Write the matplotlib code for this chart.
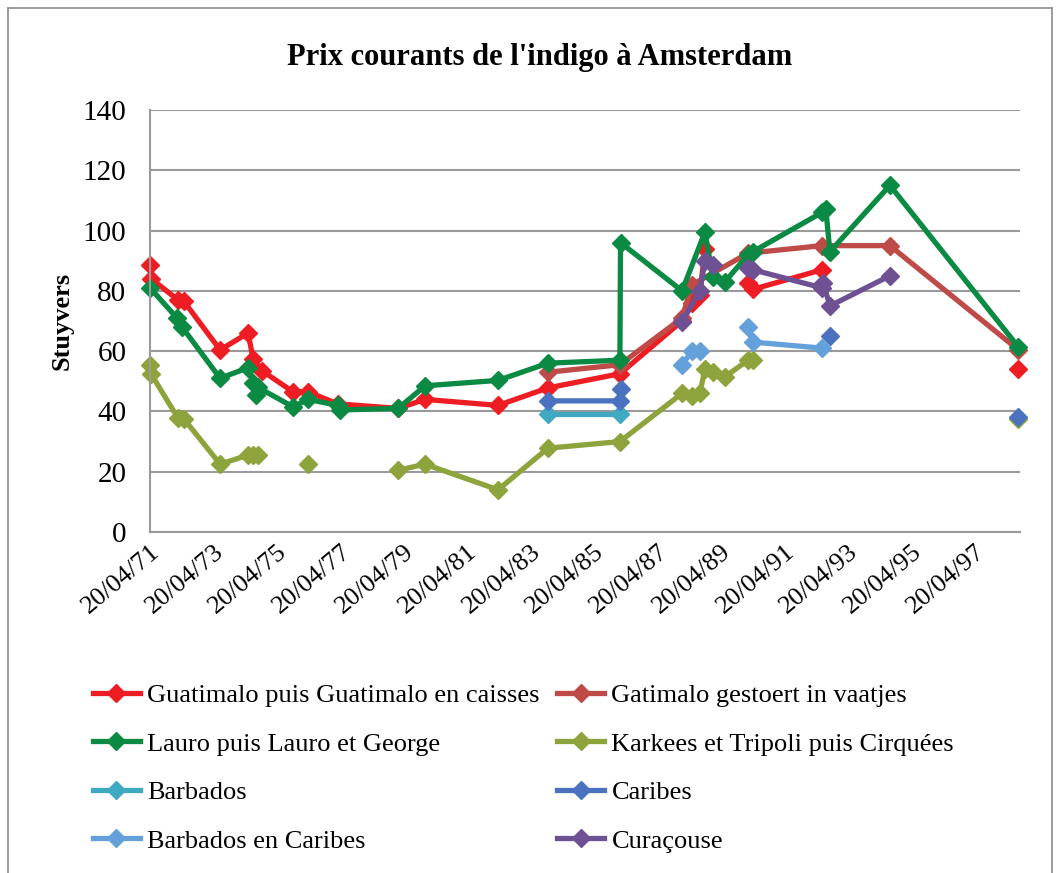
import matplotlib.pyplot as plt
import numpy as np
from matplotlib.lines import Line2D

nan = np.nan

# dates as decimal years (20/04/1771 = 1771.30)
guat_x = [1771.30, 1771.34, 1772.18, 1772.37, 1773.51, 1774.39, 1774.55, 1774.83, 1775.81, 1776.28,
          1777.22, 1779.12, 1779.97, 1782.27, 1783.84, 1786.11, 1788.07, 1788.38, 1788.63, 1788.79,
          nan, 1790.15, 1790.30, 1792.48, nan, 1798.66]
guat_y = [88.5, 84, 77, 76.5, 60.4, 66, 57.5, 53.5, 46.5, 46.5,
          42.5, 41, 44, 42, 47.8, 52.5, 70, 76, 78.6, 94,
          nan, 82.5, 80.5, 87, nan, 54]

gati_x = [1783.84, 1786.11, 1788.07, 1788.38, 1790.15, 1792.48, 1794.62, 1798.66]
gati_y = [53, 55.5, 71, 82, 92.5, 95, 95, 60.5]

lauro_x = [1771.30, 1772.15, 1772.31, 1773.51, 1774.39, 1774.55, 1774.65, 1774.70, 1775.81, 1776.28,
           1777.22, 1777.29, 1779.12, 1779.97, 1782.27, 1783.84, 1786.11, 1786.13, 1788.07, 1788.79,
           1789.04, 1789.42, 1790.15, 1790.30, 1792.48, 1792.60, 1792.73, 1794.62, 1798.66]
lauro_y = [81, 71, 68, 51, 54.5, 49.5, 45.5, 48, 41.5, 44,
           42, 40.5, 41, 48.5, 50.3, 56, 57, 96, 80, 99.5,
           84.5, 83, 92, 93, 106, 107, 93, 115, 61.5]

karkees_x = [1771.30, 1771.33, 1772.18, 1772.37, 1773.51, 1774.39, 1774.55, 1774.70, nan, 1776.28,
             nan, 1779.12, 1779.97, 1782.27, 1783.84, 1786.11, 1788.07, 1788.38, 1788.63, 1788.79,
             1789.04, 1789.42, 1790.15, 1790.30, nan, 1798.66]
karkees_y = [55.5, 52.5, 37.8, 37.5, 22.5, 25.5, 25.5, 25.5, nan, 22.5,
             nan, 20.5, 22.5, 14, 27.8, 30, 46, 45, 46, 54,
             53, 51.5, 57, 57, nan, 37.5]

barb_x = [1783.84, 1786.11]
barb_y = [39, 39]

carib_x = [1783.84, 1786.11, 1786.13, nan, 1792.73, nan, 1798.66]
carib_y = [43.5, 43.5, 47.5, nan, 65, nan, 38]

barbcar_x = [1788.07, 1788.38, 1788.63, nan, 1790.15, 1790.30, 1792.48]
barbcar_y = [55.5, 60, 60, nan, 68, 63, 61]

curac_x = [1788.07, 1788.63, 1788.79, 1789.04, nan, 1790.15, 1790.30, 1792.48, 1792.52, 1792.73, 1794.62]
curac_y = [69.7, 80, 90, 88.5, nan, 87.5, 87, 81, 82.5, 75, 85]

names = ["Guatimalo puis Guatimalo en caisses", "Gatimalo gestoert in vaatjes",
         "Lauro puis Lauro et George", "Karkees et Tripoli puis Cirquées",
         "Barbados", "Caribes", "Barbados en Caribes", "Curaçouse"]
colors = ['#EE1D24', '#BE4B48', '#0A8A43', '#8DA33B', '#3FA9C2', '#4A72BE', '#64A1DB', '#6E5192']
series = [(guat_x, guat_y), (gati_x, gati_y), (lauro_x, lauro_y), (karkees_x, karkees_y),
          (barb_x, barb_y), (carib_x, carib_y), (barbcar_x, barbcar_y), (curac_x, curac_y)]

tick_years = list(range(1771, 1798, 2))
tick_labels = ["20/04/%02d" % (y % 100) for y in tick_years]

fig = plt.figure(figsize=(10.61, 8.73), dpi=100)
ax = fig.add_axes([150 / 1061, 1 - 532 / 873, 870 / 1061, 422 / 873])

for (x, y), c, n in zip(series, colors, names):
    ax.plot(x, y, color=c, lw=3.8, marker='D', ms=9.5, label=n, clip_on=False)

ax.set_xlim(1771.30, 1798.72)
ax.set_ylim(0, 140)
ax.set_yticks(range(0, 141, 20))
ax.set_xticks([y + 0.30 for y in tick_years])
ax.set_xticklabels(tick_labels, rotation=40, ha='right', va='top', rotation_mode='anchor',
                   fontfamily='Liberation Serif', fontsize=19)
for t in ax.get_yticklabels():
    t.set_fontfamily('Liberation Serif')
    t.set_fontsize(21)
ax.tick_params(axis='both', length=0)
ax.tick_params(axis='y', pad=17)
ax.tick_params(axis='x', pad=6)
ax.grid(axis='y', color='#9A9A9A', lw=1.5)
ax.set_axisbelow(True)
for s in ['top', 'right']:
    ax.spines[s].set_visible(False)
for s in ['left', 'bottom']:
    ax.spines[s].set_color('#9A9A9A')
    ax.spines[s].set_linewidth(1.5)

fig.text(540 / 1061, 1 - 57 / 873, "Prix courants de l'indigo à Amsterdam", ha='center', va='center',
         fontfamily='Liberation Serif', fontweight='bold', fontsize=22)
fig.text(62 / 1061, 1 - 321 / 873, "Stuyvers", rotation=90, ha='center', va='center',
         fontfamily='Liberation Serif', fontweight='bold', fontsize=19)

# outer chart border
fig.add_artist(Line2D([8 / 1061, 8 / 1061], [0, 1 - 8 / 873], color='#8C8C8C', lw=1.2))
fig.add_artist(Line2D([8 / 1061, 1052 / 1061], [1 - 8 / 873, 1 - 8 / 873], color='#8C8C8C', lw=1.2))
fig.add_artist(Line2D([1052 / 1061, 1052 / 1061], [0, 1 - 8 / 873], color='#8C8C8C', lw=1.2))

handles, labels = ax.get_legend_handles_labels()
order = [0, 2, 4, 6, 1, 3, 5, 7]
fig.legend([handles[i] for i in order], [labels[i] for i in order], ncol=2,
           loc='upper left', bbox_to_anchor=(82 / 1061, 1 - 673 / 873), frameon=False,
           prop={'family': 'Liberation Serif', 'size': 19}, handlelength=1.8,
           handletextpad=0.27, columnspacing=0.65, labelspacing=0.95, borderaxespad=0)

fig.savefig('out.png', dpi=100)
